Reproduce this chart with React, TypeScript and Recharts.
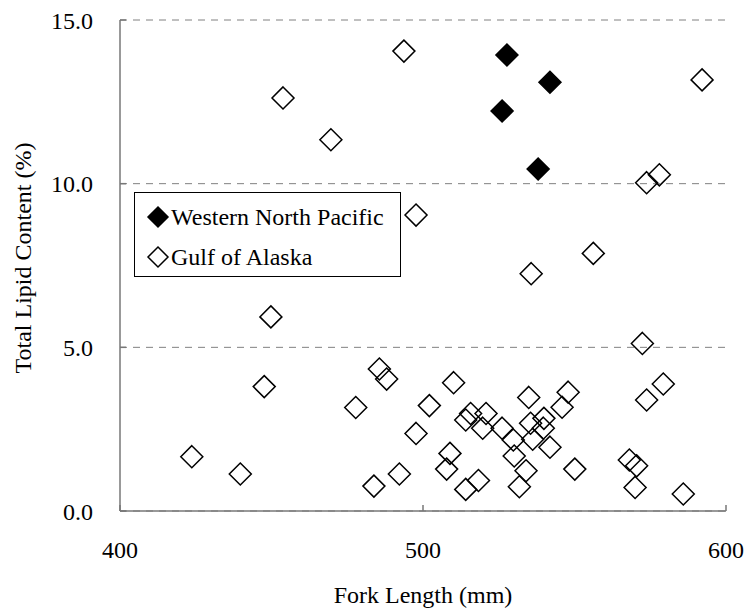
import { ScatterChart, Scatter, XAxis, YAxis, CartesianGrid, Legend } from 'recharts'

// Western North Pacific (filled diamonds)
const wnpLength = [527.7, 541.9, 526.1, 538.0]
const wnpLipid = [13.93, 13.1, 12.22, 10.45]

// Gulf of Alaska (open diamonds)
const goaLength = [
  493.7, 592.1, 453.8, 469.6, 573.8, 578.0, 497.7, 556.2, 535.7, 449.8,
  572.4, 447.6, 485.6, 488.0, 477.8, 423.7, 439.7, 483.8, 492.2, 497.7,
  502.1, 510.1, 508.9, 507.8, 518.3, 514.1, 515.7, 514.1, 520.8, 519.7,
  526.1, 529.8, 530.1, 534.9, 535.5, 536.2, 539.9, 539.7, 541.9, 534.0,
  531.8, 547.9, 545.9, 550.1, 579.3, 573.8, 568.1, 570.5, 570.0, 585.9,
]
const goaLipid = [
  14.05, 13.17, 12.62, 11.34, 10.03, 10.27, 9.04, 7.87, 7.25, 5.93,
  5.12, 3.8, 4.34, 4.03, 3.16, 1.66, 1.13, 0.76, 1.13, 2.37,
  3.22, 3.92, 1.76, 1.28, 0.93, 0.66, 2.98, 2.78, 2.98, 2.53,
  2.53, 2.17, 1.68, 3.47, 2.68, 2.19, 2.83, 2.53, 1.95, 1.23,
  0.74, 3.63, 3.17, 1.28, 3.88, 3.39, 1.56, 1.38, 0.72, 0.52,
]

const xTicks = [400, 500, 600]
const yTicks = [0, 5, 10, 15]

const wnpData = wnpLength.map((x, i) => ({ x, y: wnpLipid[i] }))
const goaData = goaLength.map((x, i) => ({ x, y: goaLipid[i] }))

const FONT = 'Liberation Serif, Tinos, Times New Roman, Times, DejaVu Serif, serif'
const AXIS = '#777'

const diamond = (filled: boolean) => (props: any) => {
  const { cx, cy } = props
  const r = 11
  return (
    <polygon
      points={`${cx},${cy - r} ${cx + r},${cy} ${cx},${cy + r} ${cx - r},${cy}`}
      fill={filled ? '#000' : 'none'}
      stroke="#000"
      strokeWidth={1.5}
    />
  )
}

function LegendBox() {
  const row = (filled: boolean, label: string) => (
    <div style={{ display: 'flex', alignItems: 'center', height: 40 }}>
      <svg width={36} height={24} style={{ flex: 'none' }}>
        <polygon
          points="23,2 33,12 23,22 13,12"
          fill={filled ? '#000' : '#fff'}
          stroke="#000"
          strokeWidth={1.5}
        />
      </svg>
      <span style={{ fontFamily: FONT, fontSize: 24, color: '#000' }}>{label}</span>
    </div>
  )
  return (
    <div
      style={{
        boxSizing: 'border-box',
        width: 267,
        height: 85,
        border: '1px solid #000',
        background: '#fff',
        paddingTop: 4,
      }}
    >
      {row(true, 'Western North Pacific')}
      {row(false, 'Gulf of Alaska')}
    </div>
  )
}

export default function App() {
  return (
    <div style={{ width: 749, height: 615, background: '#fff' }}>
      <style>{'body{margin:0}'}</style>
      <ScatterChart width={749} height={615} margin={{ top: 20, right: 23, bottom: 0, left: 0 }}>
        <CartesianGrid vertical={false} stroke="#808080" strokeDasharray="7 6" />
        <XAxis
          type="number"
          dataKey="x"
          domain={[400, 600]}
          ticks={xTicks}
          height={104}
          tickSize={-6}
          tickMargin={36}
          axisLine={{ stroke: AXIS, strokeWidth: 1.5 }}
          tickLine={{ stroke: AXIS, strokeWidth: 1.5 }}
          tick={{ fill: '#000', fontSize: 24, fontFamily: FONT }}
          label={{
            value: 'Fork Length (mm)',
            position: 'insideBottom',
            offset: 12,
            fill: '#000',
            fontSize: 24,
            fontFamily: FONT,
          }}
        />
        <YAxis
          type="number"
          dataKey="y"
          domain={[0, 15]}
          ticks={yTicks}
          width={120}
          tickSize={-6}
          tickMargin={33}
          tickFormatter={(v: number) => v.toFixed(1)}
          axisLine={{ stroke: AXIS, strokeWidth: 1.5 }}
          tickLine={{ stroke: AXIS, strokeWidth: 1.5 }}
          tick={{ fill: '#000', fontSize: 24, fontFamily: FONT }}
          label={{
            content: () => (
              <text
                x={31}
                y={258}
                transform="rotate(-90 31 258)"
                textAnchor="middle"
                fill="#000"
                fontSize={24}
                fontFamily={FONT}
              >
                Total Lipid Content (%)
              </text>
            ),
          }}
        />
        <Legend
          layout="vertical"
          align="center"
          verticalAlign="middle"
          content={() => <LegendBox />}
          wrapperStyle={{ left: 134, top: 192, width: 267, height: 85 }}
        />
        <Scatter name="Western North Pacific" data={wnpData} shape={diamond(true)} isAnimationActive={false} />
        <Scatter name="Gulf of Alaska" data={goaData} shape={diamond(false)} isAnimationActive={false} />
      </ScatterChart>
    </div>
  )
}
